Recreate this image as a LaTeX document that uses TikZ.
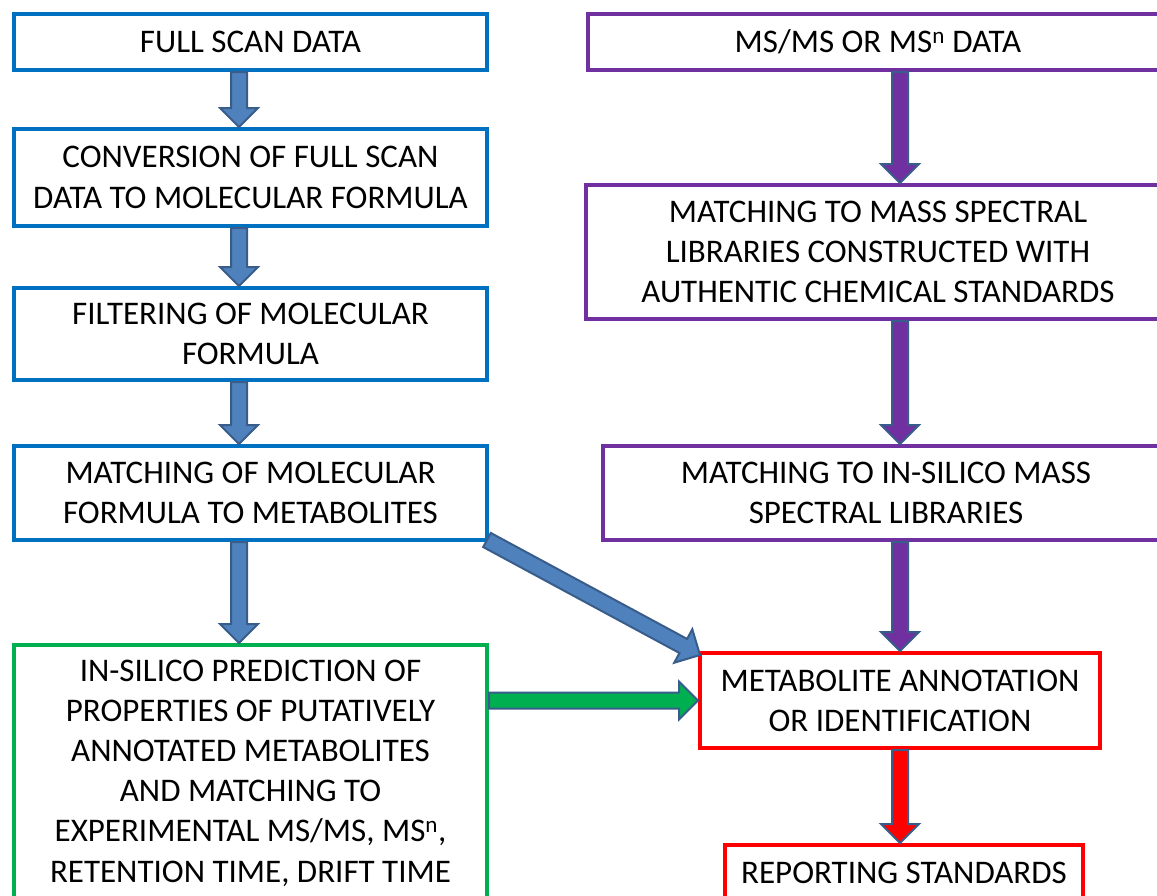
\documentclass[tikz,border=0pt]{standalone}
\usepackage{fontspec}
\setmainfont{Carlito}
\usetikzlibrary{calc}
\definecolor{cblue}{RGB}{0,112,192}
\definecolor{cpurple}{RGB}{112,48,160}
\definecolor{cgreen}{RGB}{0,176,80}
\definecolor{cred}{RGB}{255,0,0}
\definecolor{afill}{RGB}{79,129,189}
\definecolor{aline}{RGB}{56,93,138}
\tikzset{
  box/.style={draw, line width=4pt, fill=white, align=center, inner sep=0pt,
    font=\fontsize{33}{40.2}\selectfont, text=black},
  bluebox/.style={box, draw=cblue},
  purplebox/.style={box, draw=cpurple},
  greenbox/.style={box, draw=cgreen},
  redbox/.style={box, draw=cred},
  arr/.style={draw=aline, line width=2pt, line join=miter}
}
\newcommand\barrow[3]{%
  \coordinate (ba-a) at (#2);
  \coordinate (ba-b) at (#3);
  \coordinate (ba-n) at ($(ba-b)!19pt!(ba-a)$);
  \draw[arr,fill=#1] ($(ba-a)!8pt!90:(ba-b)$) -- ($(ba-n)!8pt!-90:(ba-a)$)
    -- ($(ba-n)!19pt!-90:(ba-a)$) -- (ba-b) -- ($(ba-n)!19pt!90:(ba-a)$)
    -- ($(ba-n)!8pt!90:(ba-a)$) -- ($(ba-a)!8pt!-90:(ba-b)$) -- cycle;}
\begin{document}
\begin{tikzpicture}[x=1pt,y=-1pt]
\useasboundingbox (0,0) rectangle (1157,895);
\clip (0,0) rectangle (1157,895);
\fill[white] (0,0) rectangle (1157,895);
% left column
\node[bluebox, minimum width=473pt, minimum height=56pt] (b1) at (250.5,42) {FULL SCAN DATA};
\node[bluebox, minimum width=473pt, minimum height=97pt] (b2) at (250.5,177.5) {CONVERSION OF FULL SCAN\\DATA TO MOLECULAR FORMULA};
\node[bluebox, minimum width=473pt, minimum height=92pt] (b3) at (250.5,334) {FILTERING OF MOLECULAR\\FORMULA};
\node[bluebox, minimum width=473pt, minimum height=94pt] (b4) at (250.5,493) {MATCHING OF MOLECULAR\\FORMULA TO METABOLITES};
\node[greenbox, minimum width=473pt, minimum height=256pt] (g) at (250.5,773) {IN-SILICO PREDICTION OF\\PROPERTIES OF PUTATIVELY\\ANNOTATED METABOLITES\\AND MATCHING TO\\EXPERIMENTAL MS/MS, MS\textsuperscript{n},\\RETENTION TIME, DRIFT TIME};
% right column
\node[purplebox, minimum width=580pt, minimum height=56pt] (r1) at (878,42) {MS/MS OR MS\textsuperscript{n} DATA};
\node[purplebox, minimum width=584pt, minimum height=134pt] (r2) at (878,252) {MATCHING TO MASS SPECTRAL\\LIBRARIES CONSTRUCTED WITH\\AUTHENTIC CHEMICAL STANDARDS};
\node[purplebox, minimum width=566pt, minimum height=94pt] (r3) at (886,493) {MATCHING TO IN-SILICO MASS\\SPECTRAL LIBRARIES};
\node[redbox, minimum width=400pt, minimum height=95pt] (m) at (900,700.5) {METABOLITE ANNOTATION\\OR IDENTIFICATION};
\node[redbox, minimum width=358pt, minimum height=56pt] (rep) at (904,873) {REPORTING STANDARDS};
% arrow axes
\coordinate (lx) at (239,0);
\coordinate (rx) at (900,0);
% arrows
\barrow{afill}{lx |- b1.south}{lx |- b2.north}
\barrow{afill}{lx |- b2.south}{lx |- b3.north}
\barrow{afill}{lx |- b3.south}{lx |- b4.north}
\barrow{afill}{lx |- b4.south}{lx |- g.north}
\barrow{cpurple}{rx |- r1.south}{rx |- r2.north}
\barrow{cpurple}{rx |- r2.south}{rx |- r3.north}
\barrow{cpurple}{rx |- r3.south}{rx |- m.north}
\barrow{cred}{rx |- m.south}{rx |- rep.north}
\barrow{cgreen}{g.east |- m.west}{m.west}
\barrow{afill}{$(b4.south east)+(-2,-2)$}{$(m.north west)+(2,4)$}
\end{tikzpicture}
\end{document}
